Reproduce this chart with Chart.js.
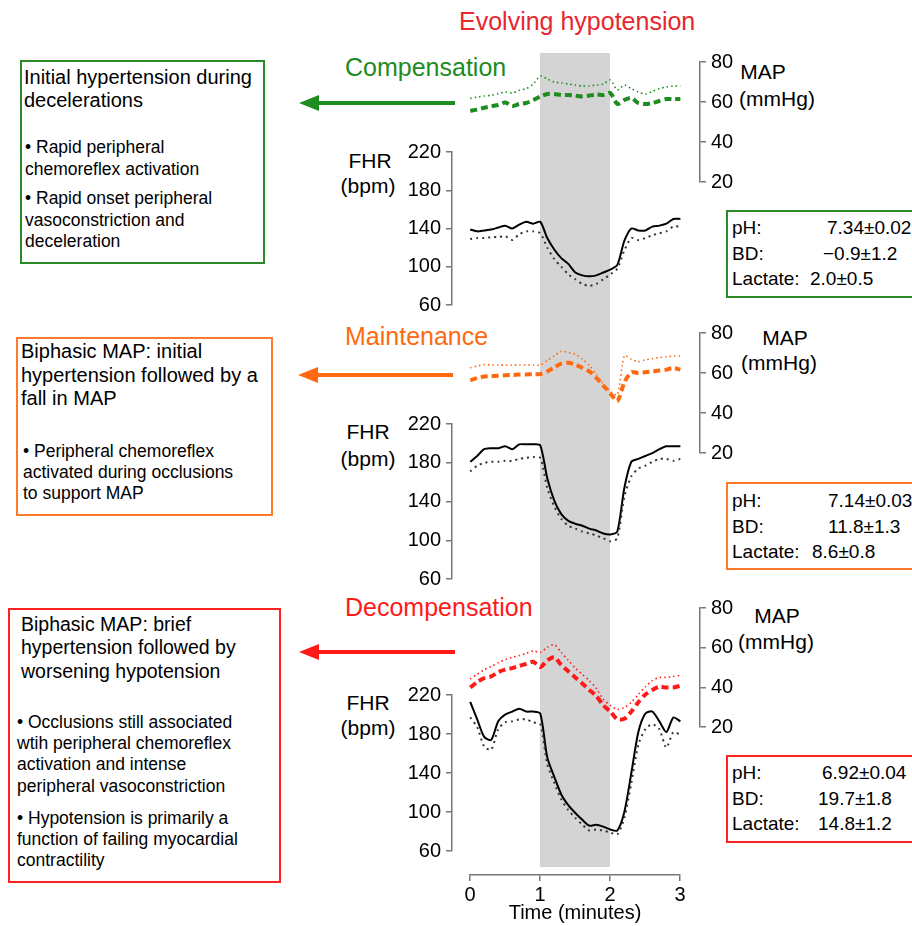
<!DOCTYPE html>
<html>
<head>
<meta charset="utf-8">
<script src="https://cdn.jsdelivr.net/npm/chart.js@4/dist/chart.umd.min.js"></script>
<style>
body{margin:0;background:#fff;font-family:"Liberation Sans",Arial,sans-serif;color:#000}
#stage{position:relative;width:912px;height:926px;overflow:hidden}
#stage canvas{position:absolute}
.t{position:absolute;white-space:nowrap}
.box{position:absolute;box-sizing:border-box;border:2px solid}
.head{position:absolute;font-size:25px;white-space:nowrap}
.lab{position:absolute;font-size:21px;white-space:nowrap;text-align:center}
</style>
</head>
<body>
<div id="stage">
  <div class="head" style="left:459px;top:7px;color:#e8262e">Evolving hypotension</div>
  <div class="head" style="left:345px;top:53px;color:#1e8c1e">Compensation</div>
  <div class="head" style="left:345px;top:322px;color:#ff6a10">Maintenance</div>
  <div class="head" style="left:345px;top:593px;color:#ff1a1a">Decompensation</div>

  <div class="box" style="left:20px;top:60px;width:245px;height:204px;border-color:#2a8a2a"></div>
  <div class="t" style="left:24px;top:66px;font-size:20px;line-height:23px">Initial hypertension during<br>decelerations</div>
  <div class="t" style="left:25px;top:136px;font-size:17.5px;line-height:22px">&bull; Rapid peripheral<br>chemoreflex activation</div>
  <div class="t" style="left:25px;top:188px;font-size:17.5px;line-height:21.5px">&bull; Rapid onset peripheral<br>vasoconstriction and<br>deceleration</div>

  <div class="box" style="left:16px;top:337px;width:257px;height:179px;border-color:#ff7a2a"></div>
  <div class="t" style="left:21px;top:340px;font-size:20px;line-height:23.5px">Biphasic MAP: initial<br>hypertension followed by a<br>fall in MAP</div>
  <div class="t" style="left:23px;top:441px;font-size:17.5px;line-height:21px">&bull; Peripheral chemoreflex<br>activated during occlusions<br>to support MAP</div>

  <div class="box" style="left:8px;top:608px;width:273px;height:275px;border-color:#ff2020"></div>
  <div class="t" style="left:21px;top:613px;font-size:19.5px;line-height:23.3px">Biphasic MAP: brief<br>hypertension followed by<br>worsening hypotension</div>
  <div class="t" style="left:17px;top:712px;font-size:17.5px;line-height:21.2px">&bull; Occlusions still associated<br>wtih peripheral chemoreflex<br>activation and intense<br>peripheral vasoconstriction</div>
  <div class="t" style="left:17px;top:808px;font-size:17.5px;line-height:21.2px">&bull; Hypotension is primarily a<br>function of failing myocardial<br>contractility</div>

  <div class="box" style="left:726px;top:210px;width:200px;height:88px;border-color:#2a8a2a"></div>
  <div class="t" style="left:732px;top:215px;font-size:19px;line-height:25.5px">pH:<br>BD:<br>Lactate:</div>
  <div class="t" style="left:827px;top:215px;font-size:19px;line-height:25.5px">7.34&plusmn;0.02</div>
  <div class="t" style="left:823px;top:240.5px;font-size:19px;line-height:25.5px">&minus;0.9&plusmn;1.2</div>
  <div class="t" style="left:810px;top:266px;font-size:19px;line-height:25.5px">2.0&plusmn;0.5</div>

  <div class="box" style="left:726px;top:482px;width:200px;height:88px;border-color:#ff7a2a"></div>
  <div class="t" style="left:732px;top:488px;font-size:19px;line-height:25.5px">pH:<br>BD:<br>Lactate:</div>
  <div class="t" style="left:828px;top:488px;font-size:19px;line-height:25.5px">7.14&plusmn;0.03<br>11.8&plusmn;1.3</div>
  <div class="t" style="left:812px;top:539px;font-size:19px;line-height:25.5px">8.6&plusmn;0.8</div>

  <div class="box" style="left:726px;top:755px;width:200px;height:88px;border-color:#ff2020"></div>
  <div class="t" style="left:732px;top:760px;font-size:19px;line-height:25.5px">pH:<br>BD:<br>Lactate:</div>
  <div class="t" style="left:822px;top:760px;font-size:19px;line-height:25.5px">6.92&plusmn;0.04</div>
  <div class="t" style="left:818px;top:785.5px;font-size:19px;line-height:25.5px">19.7&plusmn;1.8<br>14.8&plusmn;1.2</div>

  <div class="lab" style="left:735px;top:60px;width:56px">MAP</div>
  <div class="lab" style="left:737px;top:87px;width:80px">(mmHg)</div>
  <div class="lab" style="left:757px;top:326px;width:56px">MAP</div>
  <div class="lab" style="left:739px;top:351px;width:80px">(mmHg)</div>
  <div class="lab" style="left:749px;top:604px;width:56px">MAP</div>
  <div class="lab" style="left:736px;top:630px;width:80px">(mmHg)</div>

  <div class="lab" style="left:340px;top:149px;width:60px">FHR</div>
  <div class="lab" style="left:336px;top:174px;width:64px">(bpm)</div>
  <div class="lab" style="left:338px;top:420px;width:60px">FHR</div>
  <div class="lab" style="left:336px;top:447px;width:64px">(bpm)</div>
  <div class="lab" style="left:338px;top:691px;width:60px">FHR</div>
  <div class="lab" style="left:336px;top:716px;width:64px">(bpm)</div>

  <svg width="912" height="926" style="position:absolute;left:0;top:0;z-index:5">
    <line x1="316" y1="103" x2="455" y2="103" stroke="#1e8c1e" stroke-width="4"/>
    <polygon points="299,103 319,95 319,111" fill="#1e8c1e"/>
    <line x1="315" y1="375" x2="453" y2="375" stroke="#ff6a10" stroke-width="4"/>
    <polygon points="298,375 318,367 318,383" fill="#ff6a10"/>
    <line x1="316" y1="652" x2="455" y2="652" stroke="#ff1a1a" stroke-width="4"/>
    <polygon points="299,652 319,644 319,660" fill="#ff1a1a"/>
  </svg>
</div>
<script>
// time axis (minutes)
var minutes = [0,0.1,0.2,0.3,0.4,0.5,0.6,0.7,0.8,0.9,1.0,1.1,1.2,1.3,1.4,1.5,1.6,1.7,1.8,1.9,2.0,2.1,2.2,2.3,2.4,2.5,2.6,2.7,2.8,2.9,3.0];
var occlusion = [1, 2];
var timeTicks = [0, 1, 2, 3];
var fhrTicks = [60, 100, 140, 180, 220];
var mapTicks = [20, 40, 60, 80];

// Compensation
var compMapDash = [55.6,56.2,57.1,57.9,58.5,59.8,58,59,59.5,61,62.8,64,64,63.5,63.5,63.2,62.8,63.2,63.8,63.5,64.5,59,61,62,59.5,59,59.5,60.5,61.5,61.5,61.5];
var compMapDot  = [61.8,62.5,63,63.4,64.2,65,64.5,65.9,66.7,69,73,71.5,70,69.5,69,68.5,68,68,68.5,69,71,66,68.5,66.7,65,64,65.3,66.7,67.5,68,68];
var compFhr     = [139,137,138,139,141,143,140,144,147,145,147,130,118,109,103,94,91,90,91,94,97,102,127,140,138,138,142,143,145,150,150];
var compFhrDot  = [129,130,130,131,131,132,128,134,137,137,135,120,108,100,92,87,82,80,82,87,92,98,117,130,128,130,133,135,137,142,142];

// Maintenance
var mainMapDash = [56.4,57.5,58.2,58.4,58.6,58.9,59,59.2,59.3,59.4,59.5,60.8,62.8,64.7,65.1,64.2,62.6,60.8,57.6,53.7,49.8,45.9,55.3,60.4,60,60.4,60.8,61.2,61.7,62.5,61.7];
var mainMapDot  = [62.6,63.5,64.2,64,64,63.9,63.9,64,64,64,64,66.2,68.6,70.9,70.2,69.4,66.9,63.9,59.2,54.6,50.7,49.1,68.6,66.9,65.7,66.6,67.2,67.7,68.1,68.5,68.5];
var mainFhr     = [181,187,194,195,195,197,194,199,199,199,198,164,141,127,120,117,115,112,110,107,106,109,154,181,184,187,190,194,197,197,197];
var mainFhrDot  = [171,177,180,181,181,182,182,184,185,186,185,154,135,122,115,112,109,107,105,102,99,102,145,166,174,177,181,184,184,182,184];

// Decompensation
var decMapDash  = [39.9,42.7,44.6,45.5,47.7,48.9,49.7,50.8,51.8,52.9,50.2,53.6,55.2,51.3,48.1,45,41.9,38.7,35.6,30.9,27.8,23.9,24.1,27.8,32.5,36.4,38.7,40.3,39.9,39.9,40.8];
var decMapDot   = [44.2,46.6,48.9,50.5,52.4,54,55.2,56,57.1,58.4,57.6,60.2,61.5,57.6,53.6,49.7,46.6,43.4,39.5,34,30.9,28.9,29.8,32.5,36.4,40.3,43.4,45,45,45.5,46.1];
var decFhr      = [213,195,177,174,193,200,203,206,203,203,201,156,136,118,107,99,92,86,87,85,82,81,100,140,182,201,203,193,182,197,193];
var decFhrDot   = [197,187,167,164,185,192,193,195,195,192,190,149,130,113,102,94,87,81,82,81,79,77,94,130,169,185,190,185,166,182,179];

var FONT = '"Liberation Sans", Arial, sans-serif';
var AXIS = '#777';
var xMin = -0.26, xMax = 3.28;

function pts(vals) {
  return vals.map(function (v, i) { return {x: minutes[i], y: v} })
}

function addCanvas(left, top, w, h) {
  var c = document.createElement('canvas')
  c.width = w
  c.height = h
  c.style.left = left + 'px'
  c.style.top = top + 'px'
  document.getElementById('stage').insertBefore(c, document.querySelector('svg'))
  return c
}

var base = {
  animation: false,
  responsive: false,
  events: [],
  plugins: {legend: {display: false}, tooltip: {enabled: false}}
}

function yAxis(min, max, ticks, pos, width) {
  return {
    min: min, max: max, position: pos,
    afterFit: function (s) { s.width = width },
    afterBuildTicks: function (s) { s.ticks = ticks.map(function (v) { return {value: v} }) },
    grid: {drawOnChartArea: false, tickLength: 6, color: AXIS, lineWidth: 1.5},
    border: {color: AXIS, width: 1.5},
    ticks: {color: '#000', font: {family: FONT, size: 20}, padding: 5}
  }
}

// background: occlusion band + time axis
var bandPlugin = {
  id: 'band',
  beforeDatasetsDraw: function (chart) {
    var x = chart.scales.x, a = chart.chartArea, ctx = chart.ctx
    var x1 = x.getPixelForValue(occlusion[0]), x2 = x.getPixelForValue(occlusion[1])
    ctx.save()
    ctx.fillStyle = '#d4d4d4'
    ctx.fillRect(x1, a.top, x2 - x1, a.bottom - 8 - a.top)
    ctx.restore()
  }
}

new Chart(addCanvas(449, 40, 252, 886), {
  type: 'line',
  data: {datasets: []},
  plugins: [bandPlugin],
  options: Object.assign({}, base, {
    layout: {padding: {left: 21, right: 21, top: 13, bottom: 0}},
    scales: {
      x: {
        type: 'linear', min: 0, max: 3, position: 'bottom',
        afterFit: function (s) { s.height = 51 },
        afterBuildTicks: function (s) { s.ticks = timeTicks.map(function (v) { return {value: v} }) },
        grid: {drawOnChartArea: false, tickLength: 6, color: AXIS, lineWidth: 1.5},
        border: {color: AXIS, width: 1.5},
        ticks: {color: '#000', font: {family: FONT, size: 20}, padding: 2},
        title: {display: true, text: 'Time (minutes)', color: '#000', font: {family: FONT, size: 20}, padding: {top: 0, bottom: 1}}
      },
      y: {display: false, min: 0, max: 1}
    }
  })
})

function mapChart(top, h, dash, dot, col) {
  new Chart(addCanvas(452, top, 293, h), {
    type: 'line',
    data: {datasets: [
      {data: pts(dot), borderColor: col, borderWidth: 1.6, borderDash: [1.5, 3], pointRadius: 0, tension: 0.25},
      {data: pts(dash), borderColor: col, borderWidth: 4, borderDash: [7, 4], pointRadius: 0, tension: 0.25}
    ]},
    options: Object.assign({}, base, {
      layout: {padding: {left: 0, right: 0, top: 13, bottom: 13}},
      scales: {
        x: {type: 'linear', min: xMin, max: xMax, display: false},
        y: yAxis(20, 80, mapTicks, 'right', 45)
      }
    })
  })
}

function fhrChart(top, h, solid, dotted) {
  new Chart(addCanvas(392, top, 308, h), {
    type: 'line',
    data: {datasets: [
      {data: pts(dotted), borderColor: '#333', borderWidth: 2, borderDash: [2, 4], pointRadius: 0, tension: 0.25},
      {data: pts(solid), borderColor: '#000', borderWidth: 2, pointRadius: 0, tension: 0.25}
    ]},
    options: Object.assign({}, base, {
      layout: {padding: {left: 0, right: 0, top: 13, bottom: 13}},
      scales: {
        x: {type: 'linear', min: xMin, max: xMax, display: false},
        y: yAxis(60, 220, fhrTicks, 'left', 60)
      }
    })
  })
}

mapChart(45, 154, compMapDash, compMapDot, '#1e8c1e')
fhrChart(134.5, 187, compFhr, compFhrDot)
mapChart(316, 154.5, mainMapDash, mainMapDot, '#ff6a10')
fhrChart(406.5, 189, mainFhr, mainFhrDot)
mapChart(591, 153.5, decMapDash, decMapDot, '#ff1a1a')
fhrChart(678, 190, decFhr, decFhrDot)
</script>
</body>
</html>
